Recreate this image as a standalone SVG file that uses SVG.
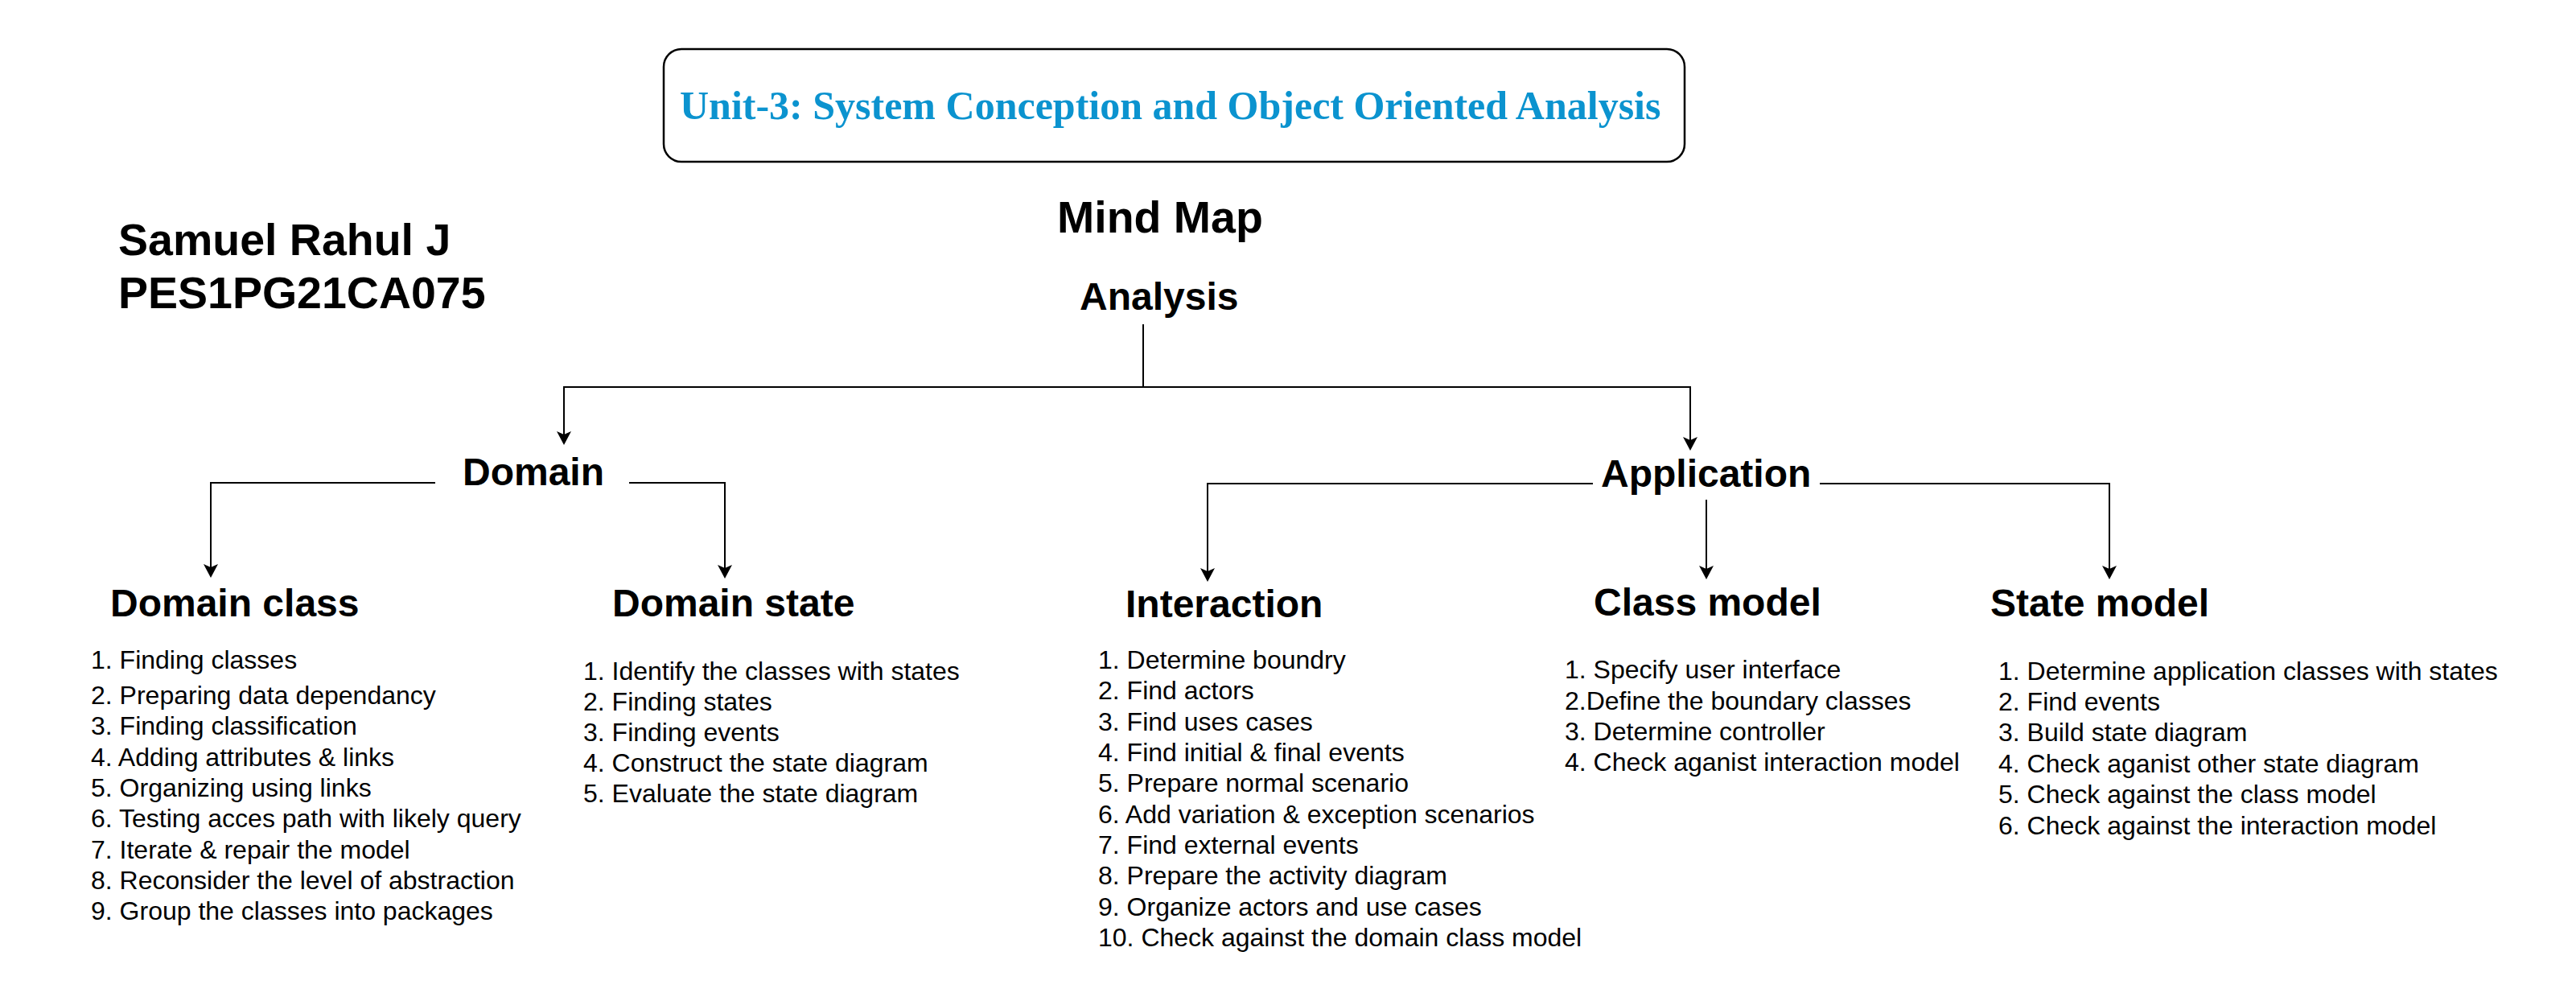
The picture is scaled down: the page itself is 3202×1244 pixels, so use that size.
<svg xmlns="http://www.w3.org/2000/svg" width="3202" height="1244" viewBox="0 0 3202 1244">
<style>
.bg{fill:#ffffff}
.box{fill:#ffffff;stroke:#000000;stroke-width:2.5}
.title{font-family:"Liberation Serif","Times New Roman",serif;font-weight:bold;font-size:50px;fill:#0b93cf}
.big{font-family:"Liberation Sans",Arial,sans-serif;font-weight:bold;font-size:55.5px;fill:#000}
.head{font-family:"Liberation Sans",Arial,sans-serif;font-weight:bold;font-size:48px;fill:#000}
.item{font-family:"Liberation Sans",Arial,sans-serif;font-size:32px;fill:#000}
.edge{fill:none;stroke:#000;stroke-width:2;marker-end:url(#arrow)}
.line{fill:none;stroke:#000;stroke-width:2}
</style>
<defs>
<marker id="arrow" markerUnits="userSpaceOnUse" viewBox="-18 -10 20 20" refX="-13" refY="0" markerWidth="20" markerHeight="20" orient="auto" overflow="visible">
<path d="M0,0 L-17,-9 L-13,0 L-17,9 Z" fill="#000"/>
</marker>
</defs>
<rect class="bg" x="0" y="0" width="3202" height="1244"/>

<g id="title">
<rect class="box" x="825" y="61" width="1269" height="140" rx="22" ry="22"/>
<text class="title" x="845" y="148">Unit-3: System Conception and Object Oriented Analysis</text>
</g>

<g id="author">
<text class="big" x="147" y="317">Samuel Rahul J</text>
<text class="big" x="147" y="383">PES1PG21CA075</text>
</g>

<g id="mindmap">
<text class="big" x="1314" y="289">Mind Map</text>
</g>

<g id="analysis">
<text class="head" x="1342" y="385">Analysis</text>
</g>

<g id="domain">
<text class="head" x="575" y="603">Domain</text>
</g>

<g id="application">
<text class="head" x="1990" y="605">Application</text>
</g>

<g id="domain-class">
<text class="head" x="137" y="766">Domain class</text>
<text class="item" x="113" y="831">1. Finding classes</text>
<text class="item" x="113" y="875">2. Preparing data dependancy</text>
<text class="item" x="113" y="913">3. Finding classification</text>
<text class="item" x="113" y="952">4. Adding attributes &amp; links</text>
<text class="item" x="113" y="990">5. Organizing using links</text>
<text class="item" x="113" y="1028">6. Testing acces path with likely query</text>
<text class="item" x="113" y="1067">7. Iterate &amp; repair the model</text>
<text class="item" x="113" y="1105">8. Reconsider the level of abstraction</text>
<text class="item" x="113" y="1143">9. Group the classes into packages</text>
</g>

<g id="domain-state">
<text class="head" x="761" y="766">Domain state</text>
<text class="item" x="725" y="845">1. Identify the classes with states</text>
<text class="item" x="725" y="883">2. Finding states</text>
<text class="item" x="725" y="921">3. Finding events</text>
<text class="item" x="725" y="959">4. Construct the state diagram</text>
<text class="item" x="725" y="997">5. Evaluate the state diagram</text>
</g>

<g id="interaction">
<text class="head" x="1399" y="767">Interaction</text>
<text class="item" x="1365" y="831">1. Determine boundry</text>
<text class="item" x="1365" y="869">2. Find actors</text>
<text class="item" x="1365" y="908">3. Find uses cases</text>
<text class="item" x="1365" y="946">4. Find initial &amp; final events</text>
<text class="item" x="1365" y="984">5. Prepare normal scenario</text>
<text class="item" x="1365" y="1023">6. Add variation &amp; exception scenarios</text>
<text class="item" x="1365" y="1061">7. Find external events</text>
<text class="item" x="1365" y="1099">8. Prepare the activity diagram</text>
<text class="item" x="1365" y="1138">9. Organize actors and use cases</text>
<text class="item" x="1365" y="1176">10. Check against the domain class model</text>
</g>

<g id="class-model">
<text class="head" x="1981" y="765">Class model</text>
<text class="item" x="1945" y="843">1. Specify user interface</text>
<text class="item" x="1945" y="882">2.Define the boundary classes</text>
<text class="item" x="1945" y="920">3. Determine controller</text>
<text class="item" x="1945" y="958">4. Check aganist interaction model</text>
</g>

<g id="state-model">
<text class="head" x="2474" y="766">State model</text>
<text class="item" x="2484" y="845">1. Determine application classes with states</text>
<text class="item" x="2484" y="883">2. Find events</text>
<text class="item" x="2484" y="921">3. Build state diagram</text>
<text class="item" x="2484" y="960">4. Check aganist other state diagram</text>
<text class="item" x="2484" y="998">5. Check against the class model</text>
<text class="item" x="2484" y="1037">6. Check against the interaction model</text>
</g>

<g id="connectors">
<path class="edge" d="M1421,403 V481 H701 V540"/>
<path class="edge" d="M1421,481 H2101 V547"/>
<path class="edge" d="M541,600 H262 V705"/>
<path class="edge" d="M782,600 H901 V706"/>
<path class="edge" d="M1980,601 H1501 V710"/>
<path class="edge" d="M2121,621 V707"/>
<path class="edge" d="M2262,601 H2622 V707"/>
</g>
</svg>
